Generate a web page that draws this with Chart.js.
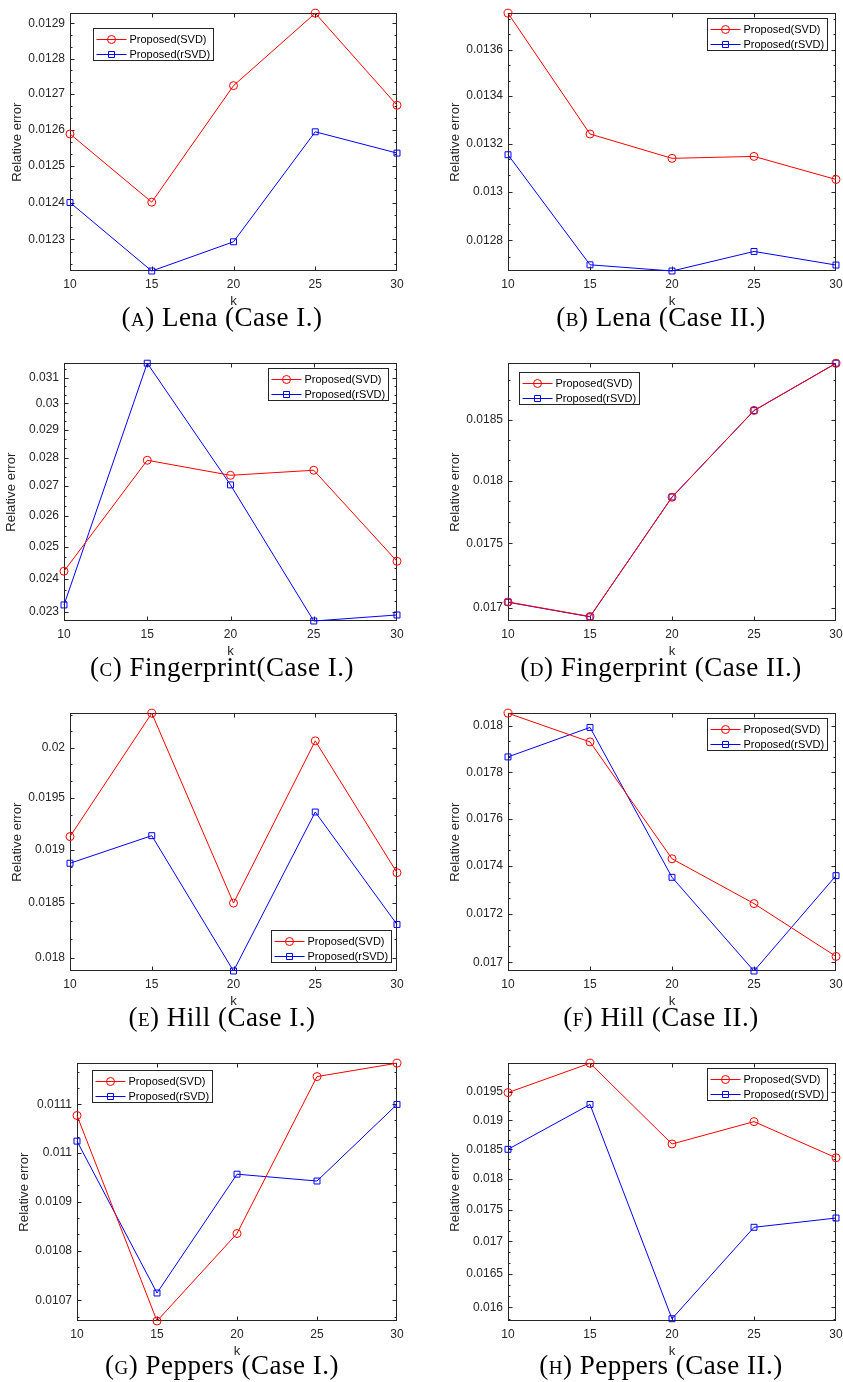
<!DOCTYPE html>
<html>
<head>
<meta charset="utf-8">
<script src="https://cdn.jsdelivr.net/npm/chart.js@4.4.0/dist/chart.umd.min.js"></script>
<style>
  body { margin: 0; background: #fff; }
  #page { position: relative; width: 843px; height: 1382px; overflow: hidden; background: #fff; }
  #page canvas { position: absolute; }
  .caption {
    position: absolute; width: 420px; text-align: center; white-space: nowrap;
    font-family: "Liberation Serif", "Times New Roman", serif; font-size: 27px; line-height: 25px;
    letter-spacing: 0.5px; color: #000;
  }
  .sc { font-variant: small-caps; }
</style>
</head>
<body>
<div id="page"></div>
<script>
// x values (k)
const kValues = [10, 15, 20, 25, 30];

// (A) Lena, case I
const lenaCase1Svd = [0.012589, 0.012401, 0.012724, 0.012929, 0.012669];
const lenaCase1Rsvd = [0.012400, 0.012214, 0.012293, 0.012595, 0.012536];
const lenaCase1Ticks = [0.0123, 0.0124, 0.0125, 0.0126, 0.0127, 0.0128, 0.0129];

// (B) Lena, case II
const lenaCase2Svd = [0.013758, 0.013240, 0.013138, 0.013146, 0.013050];
const lenaCase2Rsvd = [0.013153, 0.012701, 0.012676, 0.012755, 0.012700];
const lenaCase2Ticks = [0.0128, 0.013, 0.0132, 0.0134, 0.0136];

// (C) Fingerprint, case I
const fingerCase1Svd = [0.024227, 0.027906, 0.027376, 0.027553, 0.024536];
const fingerCase1Rsvd = [0.023208, 0.031579, 0.027044, 0.022738, 0.022913];
const fingerCase1Ticks = [0.023, 0.024, 0.025, 0.026, 0.027, 0.028, 0.029, 0.03, 0.031];

// (D) Fingerprint, case II
const fingerCase2Svd = [0.017045, 0.016934, 0.017866, 0.018577, 0.018973];
const fingerCase2Rsvd = [0.017043, 0.016932, 0.017868, 0.018575, 0.018975];
const fingerCase2Ticks = [0.017, 0.0175, 0.018, 0.0185];

// (E) Hill, case I
const hillCase1Svd = [0.019127, 0.020347, 0.018500, 0.020067, 0.018784];
const hillCase1Rsvd = [0.018873, 0.019136, 0.017881, 0.019364, 0.018303];
const hillCase1Ticks = [0.018, 0.0185, 0.019, 0.0195, 0.02];

// (F) Hill, case II
const hillCase2Svd = [0.018056, 0.017931, 0.017431, 0.017243, 0.017024];
const hillCase2Rsvd = [0.017866, 0.017994, 0.017353, 0.016964, 0.017360];
const hillCase2Ticks = [0.017, 0.0172, 0.0174, 0.0176, 0.0178, 0.018];

// (G) Peppers, case I
const peppersCase1Svd = [0.011077, 0.010659, 0.010835, 0.011158, 0.011186];
const peppersCase1Rsvd = [0.011024, 0.010715, 0.010956, 0.010942, 0.011100];
const peppersCase1Ticks = [0.0107, 0.0108, 0.0109, 0.011, 0.0111];

// (H) Peppers, case II
const peppersCase2Svd = [0.019490, 0.020024, 0.018591, 0.018977, 0.018357];
const peppersCase2Rsvd = [0.018500, 0.019279, 0.015833, 0.017221, 0.017368];
const peppersCase2Ticks = [0.016, 0.0165, 0.017, 0.0175, 0.018, 0.0185, 0.019, 0.0195];

const seriesNames = ["Proposed(SVD)", "Proposed(rSVD)"];
const captionLetters = ["a", "b", "c", "d", "e", "f", "g", "h"];
const captionTexts = ["Lena (Case I.)", "Lena (Case II.)", "Fingerprint(Case I.)", "Fingerprint (Case II.)",
  "Hill (Case I.)", "Hill (Case II.)", "Peppers (Case I.)", "Peppers (Case II.)"];

const RED = "rgb(255,0,0)";
const BLUE = "rgb(0,0,255)";
const AXIS = "#262626";

// plot box [left, top, right, bottom] and legend top-left corner, page pixels
const panels = [
  { svd: lenaCase1Svd, rsvd: lenaCase1Rsvd, ticks: lenaCase1Ticks, box: [70, 11, 397, 271], legend: [93, 28] },
  { svd: lenaCase2Svd, rsvd: lenaCase2Rsvd, ticks: lenaCase2Ticks, box: [508, 11, 836, 271], legend: [707, 18] },
  { svd: fingerCase1Svd, rsvd: fingerCase1Rsvd, ticks: fingerCase1Ticks, box: [64, 361, 397, 621], legend: [268, 368] },
  { svd: fingerCase2Svd, rsvd: fingerCase2Rsvd, ticks: fingerCase2Ticks, box: [508, 361, 836, 621], legend: [519, 372] },
  { svd: hillCase1Svd, rsvd: hillCase1Rsvd, ticks: hillCase1Ticks, box: [70, 711, 397, 971], legend: [271, 930] },
  { svd: hillCase2Svd, rsvd: hillCase2Rsvd, ticks: hillCase2Ticks, box: [508, 711, 836, 971], legend: [707, 718] },
  { svd: peppersCase1Svd, rsvd: peppersCase1Rsvd, ticks: peppersCase1Ticks, box: [77, 1061, 397, 1321], legend: [92, 1070] },
  { svd: peppersCase2Svd, rsvd: peppersCase2Rsvd, ticks: peppersCase2Ticks, box: [508, 1061, 836, 1321], legend: [707, 1068] }
];
const captionCenters = [222, 661];
const captionBaselines = [325, 675, 1025, 1373];

const Y_AXIS_W = 61;
const X_AXIS_H = 38;
const PAD_TOP = 10;
const PAD_RIGHT = 14;

// box + inward ticks like matlab
const matlabAxes = {
  id: "matlabAxes",
  beforeDatasetsDraw(chart) {
    const { ctx, chartArea: a, scales: { x, y } } = chart;
    const l = Math.round(a.left) + 0.5, r = Math.round(a.right) - 0.5;
    const t = Math.round(a.top) + 0.5, b = Math.round(a.bottom) - 0.5;
    ctx.save();
    ctx.strokeStyle = AXIS;
    ctx.lineWidth = 1;
    ctx.beginPath();
    // x ticks top and bottom
    for (let i = 1; i < kValues.length - 1; i++) {
      const px = Math.round(x.getPixelForTick(i)) + 0.5;
      ctx.moveTo(px, b); ctx.lineTo(px, b - 4);
      ctx.moveTo(px, t); ctx.lineTo(px, t + 4);
    }
    // y major ticks
    const vals = y.ticks.map(tk => tk.value);
    vals.forEach(v => {
      const py = Math.round(y.getPixelForValue(v)) + 0.5;
      ctx.moveTo(l, py); ctx.lineTo(l + 4, py);
      ctx.moveTo(r, py); ctx.lineTo(r - 4, py);
    });
    // y minor ticks
    const step = (vals[1] - vals[0]) / 3;
    for (let k = -3; k <= (vals.length - 1) * 3 + 3; k++) {
      if (k % 3 === 0) continue;
      const v = vals[0] + k * step;
      if (v < y.min || v > y.max) continue;
      const py = Math.round(y.getPixelForValue(v)) + 0.5;
      ctx.moveTo(l, py); ctx.lineTo(l + 2, py);
      ctx.moveTo(r, py); ctx.lineTo(r - 2, py);
    }
    ctx.stroke();
    ctx.strokeRect(l, t, r - l, b - t);
    ctx.restore();
  }
};

// legend box inside the axes
const boxLegend = {
  id: "boxLegend",
  afterDraw(chart, args, opts) {
    const ctx = chart.ctx;
    const lx = Math.round(opts.x) + 0.5, ly = Math.round(opts.y) + 0.5;
    const w = 120, h = 32;
    ctx.save();
    ctx.fillStyle = "#fff";
    ctx.fillRect(lx, ly, w, h);
    ctx.strokeStyle = AXIS;
    ctx.lineWidth = 1;
    ctx.strokeRect(lx, ly, w, h);
    chart.data.datasets.forEach((ds, i) => {
      const cy = Math.round(ly + 10 + i * 15.5) + 0.5;
      ctx.strokeStyle = ds.borderColor;
      ctx.beginPath();
      ctx.moveTo(lx + 3, cy); ctx.lineTo(lx + 33, cy);
      ctx.stroke();
      ctx.beginPath();
      if (ds.pointStyle === "rect") {
        ctx.rect(lx + 15, cy - 3, 6, 6);
      } else {
        ctx.arc(lx + 18, cy, 4, 0, Math.PI * 2);
      }
      ctx.stroke();
      ctx.fillStyle = "#000";
      ctx.font = '11px "Liberation Sans", Arial, sans-serif';
      ctx.textBaseline = "middle";
      ctx.fillText(ds.label, lx + 36, cy + 0.5);
    });
    ctx.restore();
  }
};

const page = document.getElementById("page");
const tickFont = { family: '"Liberation Sans", Arial, sans-serif', size: 12 };
const titleFont = { family: '"Liberation Sans", Arial, sans-serif', size: 13.2 };

panels.forEach((p, idx) => {
  const [L, T, R, B] = p.box;
  const cLeft = L - Y_AXIS_W;
  const cTop = T - PAD_TOP;
  const cw = R - cLeft + PAD_RIGHT;
  const chh = B + X_AXIS_H - cTop;
  const canvas = document.createElement("canvas");
  canvas.width = cw;
  canvas.height = chh;
  canvas.style.left = cLeft + "px";
  canvas.style.top = cTop + "px";
  canvas.style.width = cw + "px";
  canvas.style.height = chh + "px";
  page.appendChild(canvas);

  const all = p.svd.concat(p.rsvd);
  const yMin = Math.min(...all);
  const yMax = Math.max(...all);

  new Chart(canvas, {
    type: "line",
    data: {
      labels: kValues,
      datasets: [
        {
          label: seriesNames[0], data: p.svd, borderColor: RED, pointBorderColor: RED,
          pointBackgroundColor: "rgba(0,0,0,0)", pointStyle: "circle", pointRadius: 4, clip: false
        },
        {
          label: seriesNames[1], data: p.rsvd, borderColor: BLUE, pointBorderColor: BLUE,
          pointBackgroundColor: "rgba(0,0,0,0)", pointStyle: "rect", pointRadius: 4.2, clip: false
        }
      ]
    },
    options: {
      responsive: false,
      animation: false,
      devicePixelRatio: 1,
      events: [],
      layout: { padding: { top: PAD_TOP, right: PAD_RIGHT, left: 0, bottom: 0 } },
      elements: {
        line: { borderWidth: 1, tension: 0 },
        point: { borderWidth: 1, hoverRadius: 4 }
      },
      plugins: {
        legend: { display: false },
        tooltip: { enabled: false },
        boxLegend: { x: p.legend[0] - cLeft, y: p.legend[1] - cTop }
      },
      scales: {
        x: {
          type: "category",
          offset: false,
          grid: { display: false, drawTicks: false },
          border: { display: false },
          ticks: { color: AXIS, font: tickFont, padding: 6, maxRotation: 0, autoSkip: false },
          title: { display: true, text: "k", color: AXIS, font: titleFont, padding: 0 },
          afterFit: s => { s.height = X_AXIS_H; }
        },
        y: {
          type: "logarithmic",
          min: yMin,
          max: yMax,
          grid: { display: false, drawTicks: false },
          border: { display: false },
          ticks: { color: AXIS, font: tickFont, padding: 5, callback: v => String(v) },
          afterBuildTicks: s => { s.ticks = p.ticks.map(v => ({ value: v })); },
          title: { display: true, text: "Relative error", color: AXIS, font: titleFont, padding: 0 },
          afterFit: s => { s.width = Y_AXIS_W; }
        }
      }
    },
    plugins: [matlabAxes, boxLegend]
  });

  const cap = document.createElement("div");
  cap.className = "caption";
  cap.style.left = (captionCenters[idx % 2] - 210) + "px";
  cap.style.top = (captionBaselines[Math.floor(idx / 2)] - 20) + "px";
  cap.innerHTML = '(<span class="sc">' + captionLetters[idx] + '</span>) ' + captionTexts[idx];
  page.appendChild(cap);
});
</script>
</body>
</html>
